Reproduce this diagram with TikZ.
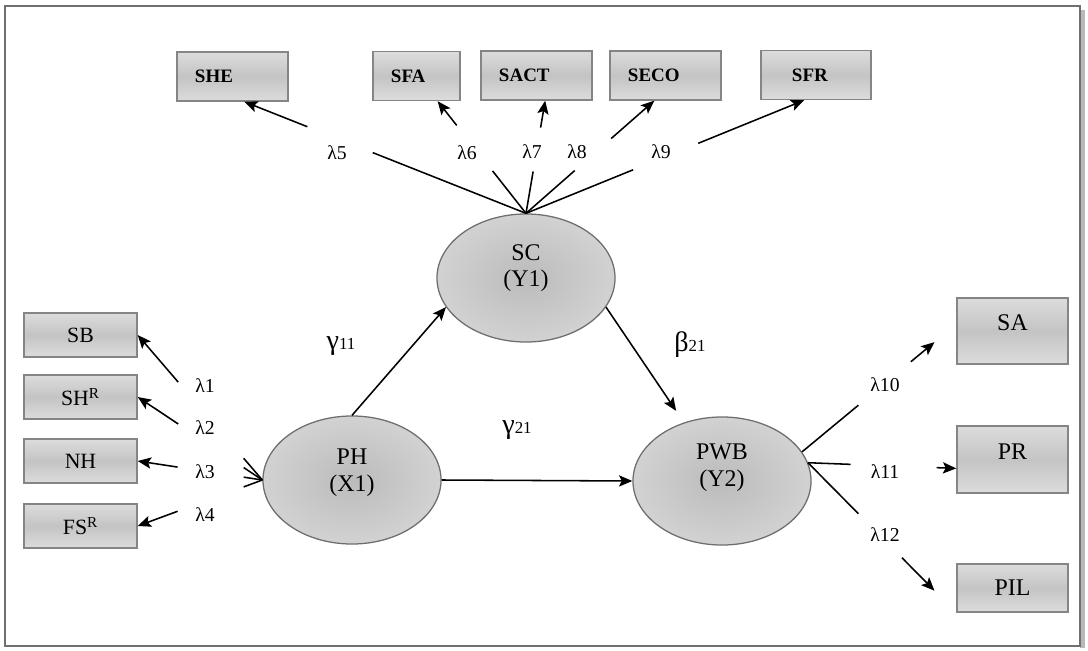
\documentclass[tikz,border=0pt]{standalone}
\usepackage{fontspec}
\setmainfont{Liberation Serif}
\usetikzlibrary{arrows.meta,calc,shapes.geometric}
\newcommand{\pxu}{0.025cm}
\definecolor{boxbd}{HTML}{858585}
\definecolor{boxlt}{HTML}{DCDCDC}
\definecolor{boxdk}{HTML}{C4C4C4}
\definecolor{ellbd}{HTML}{6E6E6E}
\definecolor{elldk}{HTML}{BBBBBB}
\definecolor{elllt}{HTML}{D2D2D2}
\definecolor{framec}{HTML}{707070}
\newcommand{\gapline}[5]{%
  \draw[conn] (#1) -- ($(#1)!#3!(#2)$);
  \draw[conn,->] ($(#1)!#4!(#2)$) -- ($(#1)!#5!(#2)$);}
\newcommand{\coefsub}[1]{{\fontsize{12}{13}\selectfont #1}}
\begin{document}
\begin{tikzpicture}[x=0.025cm,y=-0.025cm,
  >={Stealth[length=9.5pt,width=8pt,inset=2pt]},
  conn/.style={line width=1.1pt,black},
  obox/.style={draw=boxbd,line width=1pt,top color=boxlt,bottom color=boxlt,middle color=boxdk,
    inner ysep=0pt},
  tbox/.style={obox,font=\fontsize{13.5}{15}\selectfont\bfseries,align=left,inner xsep=0.45cm,minimum height=1.225cm},
  lbox/.style={obox,align=center,minimum width=2.825cm,minimum height=1.1cm,font=\fontsize{15.5}{17}\selectfont},
  rbox/.style={obox,align=center,minimum width=2.775cm,font=\fontsize{17}{19}\selectfont},
  lv/.style={ellipse,draw=ellbd,line width=0.9pt,inner color=elldk,outer color=elllt,
    minimum width=4.45cm,minimum height=3.2cm,inner sep=0pt},
  lvtext/.style={align=center,inner sep=0pt,font=\fontsize{17}{19}\selectfont},
  lam/.style={inner sep=0pt,font=\fontsize{14}{16}\selectfont},
  coef/.style={inner sep=0pt,font=\fontsize{20}{22}\selectfont}
]
\useasboundingbox (0,0) rectangle (1088,651);
\fill[white] (0,0) rectangle (1088,651);
% frame
\fill[gray!55] (1080,10) rectangle (1085,648);
\draw[framec,line width=1.1pt] (5,6) rectangle (1080,646);

% top indicator boxes
\node[tbox,text width=1.875cm] (SHE) at (232.5,76.5) {SHE};
\node[tbox,text width=1.275cm] (SFA) at (416.5,76) {SFA};
\node[tbox,text width=1.875cm] (SACT) at (536.5,75.5) {SACT};
\node[tbox,text width=1.875cm] (SECO) at (665.5,75.5) {SECO};
\node[tbox,text width=1.2cm,inner xsep=0.775cm] (SFR) at (816,75) {SFR};

% left boxes
\node[lbox] (SB) at (80.5,335) {SB};
\node[lbox] (SHR) at (80.5,397) {SH\textsuperscript{R}};
\node[lbox] (NH) at (80.5,461) {NH};
\node[lbox] (FS) at (80.5,526) {FS\textsuperscript{R}};

% right boxes
\node[rbox,minimum height=1.65cm,text depth=0.4cm] (SA) at (1012.5,331) {SA};
\node[rbox,minimum height=1.675cm,text depth=0.4cm] (PR) at (1012.5,459.5) {PR};
\node[rbox,minimum height=1.2cm] (PIL) at (1012.5,588) {PIL};

% latent variables
\node[lv] (SC) at (526,278) {};
\node[lvtext] (SCt) at (526,268) {SC\\(Y1)};
\node[lv] (PH) at (352,480) {};
\node[lvtext] (PHt) at (352,473) {PH\\(X1)};
\node[lv] (PWB) at (722,481) {};
\node[lvtext] (PWBt) at (722,468) {PWB\\(Y2)};

% structural paths
\draw[conn,->] (PH.north) -- (SC.200);
\draw[conn,->,shorten >=10pt] (SC.-20) -- (PWB.123);
\draw[conn,->] (PH.east) -- (PWB.west);
\node[coef] (g11) at (341,346) {γ\coefsub{11}};
\node[coef] (b21) at (690,345) {β\coefsub{21}};
\node[coef] (g21) at (517,430) {γ\coefsub{21}};

% top loadings
\gapline{SC.north}{SHE.-65}{0.544}{0.776}{1}
\gapline{SC.north}{SFA.-50}{0.378}{0.784}{1}
\gapline{SC.north}{SACT.-71}{0.372}{0.761}{1}
\gapline{SC.north}{SECO.-114}{0.38}{0.664}{1}
\gapline{SC.north}{SFR.-115}{0.385}{0.619}{1}
\node[lam] (l5) at (337,153) {λ5};
\node[lam] (l6) at (467,153) {λ6};
\node[lam] (l7) at (532,152) {λ7};
\node[lam] (l8) at (577,152) {λ8};
\node[lam] (l9) at (661,152) {λ9};

% left loadings
\gapline{PH.west}{SB.east}{0.15}{0.675}{1}
\gapline{PH.west}{SHR.east}{0.15}{0.675}{1}
\gapline{PH.west}{NH.east}{0.15}{0.68}{1}
\gapline{PH.west}{FS.east}{0.15}{0.68}{1}
\node[lam] (l1) at (205,386) {λ1};
\node[lam] (l2) at (205,428) {λ2};
\node[lam] (l3) at (205,472) {λ3};
\node[lam] (l4) at (205,515) {λ4};

% right loadings
\gapline{PWB.20}{SA.173}{0.365}{0.705}{0.859}
\gapline{PWB.12}{PR.189}{0.287}{0.867}{1}
\gapline{PWB.12}{PIL.south west}{0.34}{0.633}{0.853}
\node[lam] (l10) at (885,385) {λ10};
\node[lam] (l11) at (885,472) {λ11};
\node[lam] (l12) at (885,535) {λ12};
\end{tikzpicture}
\end{document}
